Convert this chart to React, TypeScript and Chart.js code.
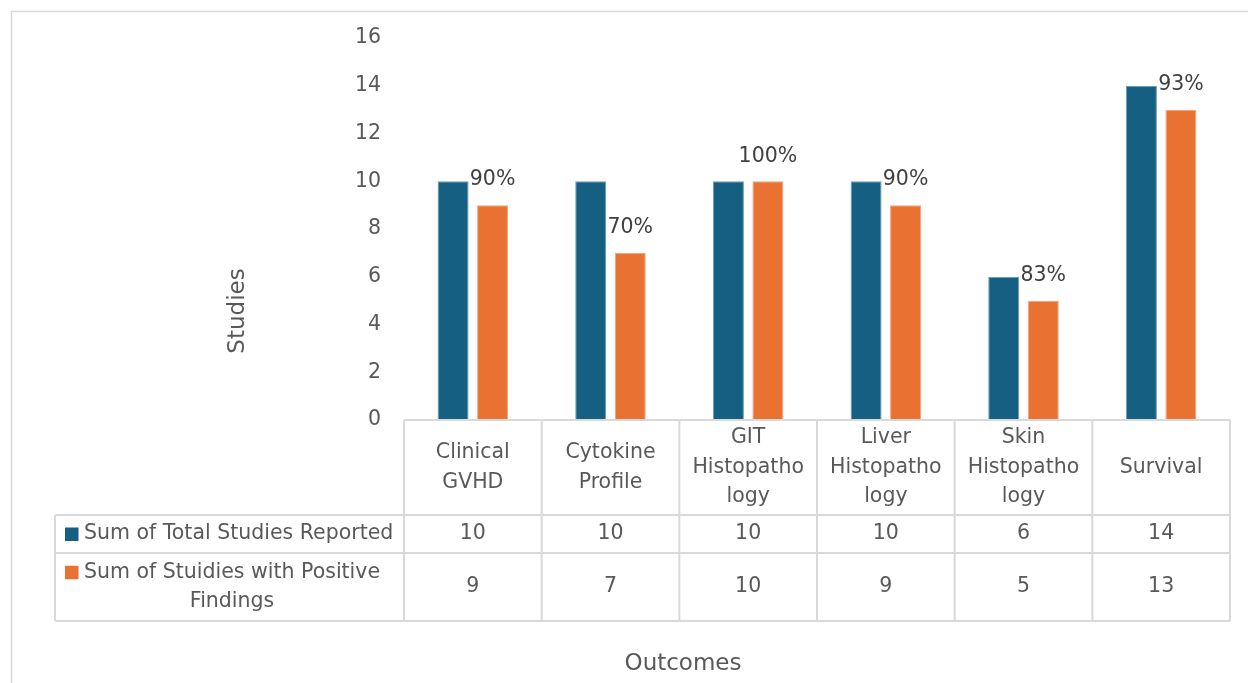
import { useEffect, useRef } from "react";
import { Chart, registerables } from "chart.js";

Chart.register(...registerables);

// Outcome categories (each entry is the wrapped header text of a table column)
const categories: string[][] = [
  ["Clinical", "GVHD"],
  ["Cytokine", "Profile"],
  ["GIT", "Histopatho", "logy"],
  ["Liver", "Histopatho", "logy"],
  ["Skin", "Histopatho", "logy"],
  ["Survival"],
];

const totalStudies = [10, 10, 10, 10, 6, 14];
const positiveStudies = [9, 7, 10, 9, 5, 13];

const seriesNames = ["Sum of Total Studies Reported", "Sum of Stuidies with Positive Findings"];
const seriesLabelLines: string[][] = [
  ["Sum of Total Studies Reported"],
  ["Sum of Stuidies with Positive", "Findings"],
];

const yMin = 0;
const yMax = 16;
const yStep = 2;

const yTitle = "Studies";
const xTitle = "Outcomes";

const BLUE = "#156082";
const ORANGE = "#E97132";
const TEXT = "#595959";
const LABEL_TEXT = "#404040";
const LINE = "#d9d9d9";
const FONT = "'DejaVu Sans', 'Noto Sans', sans-serif";
const FS = 20.5;
const TITLE_FS = 23;

const tablePlugin = {
  id: "dataTable",
  afterDraw(chart: any) {
    const ctx: CanvasRenderingContext2D = chart.ctx;
    const area = chart.chartArea;
    const x = chart.scales.x;
    const n = categories.length;
    const cw = (area.right - area.left) / n;
    const headerBottom = area.bottom + 95;
    const row1Bottom = headerBottom + 38;
    const row2Bottom = row1Bottom + 68;
    const legendLeft = 55;

    ctx.save();

    // chart frame
    ctx.strokeStyle = LINE;
    ctx.lineWidth = 1.5;
    ctx.beginPath();
    ctx.moveTo(11.5, chart.height);
    ctx.lineTo(11.5, 11.5);
    ctx.lineTo(chart.width, 11.5);
    ctx.stroke();

    // table grid
    ctx.lineWidth = 2;
    ctx.beginPath();
    ctx.moveTo(area.left, area.bottom);
    ctx.lineTo(area.right, area.bottom);
    for (const yy of [headerBottom, row1Bottom, row2Bottom]) {
      ctx.moveTo(legendLeft, yy);
      ctx.lineTo(area.right, yy);
    }
    for (let i = 0; i <= n; i++) {
      const xx = area.left + i * cw;
      ctx.moveTo(xx, area.bottom);
      ctx.lineTo(xx, row2Bottom);
    }
    ctx.moveTo(legendLeft, headerBottom);
    ctx.lineTo(legendLeft, row2Bottom);
    ctx.stroke();

    // category headers
    ctx.fillStyle = TEXT;
    ctx.font = `${FS}px ${FONT}`;
    ctx.textAlign = "center";
    ctx.textBaseline = "middle";
    const lh = 29.5;
    const headerMid = (area.bottom + headerBottom) / 2;
    categories.forEach((lines, i) => {
      const cx = x.getPixelForValue(i);
      const startY = headerMid - ((lines.length - 1) * lh) / 2;
      lines.forEach((ln, j) => ctx.fillText(ln, cx, startY + j * lh));
    });

    // values rows
    const rowMids = [(headerBottom + row1Bottom) / 2, (row1Bottom + row2Bottom) / 2];
    [totalStudies, positiveStudies].forEach((vals, r) => {
      vals.forEach((v, i) => {
        ctx.fillText(String(v), x.getPixelForValue(i), rowMids[r]);
      });
    });

    // series legend cells
    const colors = [BLUE, ORANGE];
    seriesLabelLines.forEach((lines, r) => {
      const mid = rowMids[r];
      const startY = mid - ((lines.length - 1) * lh) / 2;
      ctx.fillStyle = colors[r];
      ctx.fillRect(65, startY - 6.5, 13.5, 13.5);
      ctx.fillStyle = TEXT;
      const w0 = ctx.measureText(lines[0]).width;
      const textLeft = 84;
      const cx = textLeft + w0 / 2;
      lines.forEach((ln, j) => ctx.fillText(ln, cx, startY + j * lh));
    });

    // percentage labels above the positive-findings bars
    const meta = chart.getDatasetMeta(1);
    ctx.fillStyle = LABEL_TEXT;
    ctx.font = `${FS}px ${FONT}`;
    meta.data.forEach((bar: any, i: number) => {
      const pct = Math.round((positiveStudies[i] / totalStudies[i]) * 100);
      ctx.fillText(`${pct}%`, bar.x, bar.y - 25);
    });

    // axis titles
    ctx.fillStyle = TEXT;
    ctx.font = `${TITLE_FS}px ${FONT}`;
    ctx.fillText(xTitle, 683, 664);
    ctx.translate(238, 311);
    ctx.rotate(-Math.PI / 2);
    ctx.fillText(yTitle, 0, 0);

    ctx.restore();
  },
};

export default function App() {
  const ref = useRef<HTMLCanvasElement>(null);

  useEffect(() => {
    document.body.style.margin = "0";
    const canvas = ref.current;
    if (!canvas) return;
    const chart = new Chart(canvas, {
      type: "bar",
      data: {
        labels: categories.map((c) => c.join(" ")),
        datasets: [
          {
            label: seriesNames[0],
            data: totalStudies,
            backgroundColor: BLUE,
            borderColor: "#6f9bb2",
            borderWidth: 1,
          },
          {
            label: seriesNames[1],
            data: positiveStudies,
            backgroundColor: ORANGE,
            borderColor: "#f3a27a",
            borderWidth: 1,
          },
        ],
      },
      options: {
        responsive: false,
        animation: false,
        layout: { padding: { left: 0, top: 38, right: 18, bottom: 263 } },
        datasets: {
          bar: { categoryPercentage: 0.574, barPercentage: 0.785 },
        },
        plugins: {
          legend: { display: false },
          tooltip: { enabled: false },
        },
        scales: {
          x: { display: false },
          y: {
            min: yMin,
            max: yMax,
            border: { display: false },
            grid: { display: false, drawTicks: false },
            ticks: {
              stepSize: yStep,
              padding: 23,
              color: TEXT,
              font: { size: FS, family: FONT },
            },
            afterFit(scale: any) {
              scale.width = 404;
            },
          },
        },
      },
      plugins: [tablePlugin],
    });
    return () => chart.destroy();
  }, []);

  return <canvas ref={ref} width={1248} height={683} />;
}
